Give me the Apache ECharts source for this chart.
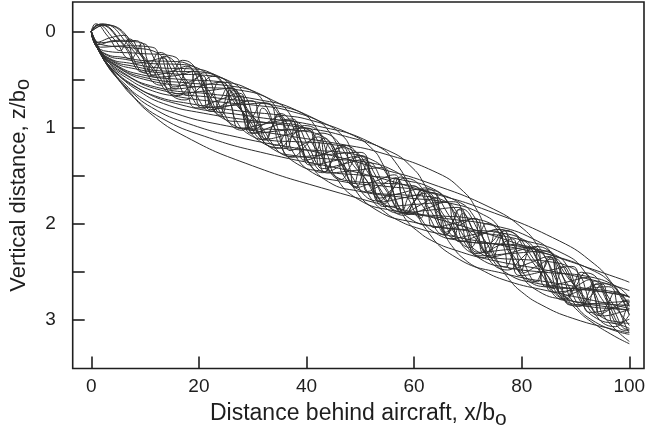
<!DOCTYPE html>
<html>
<head>
<meta charset="utf-8">
<script src="https://cdn.jsdelivr.net/npm/echarts@6/dist/echarts.min.js"></script>
<style>
html,body{margin:0;padding:0;background:#fff;}
#chart{width:648px;height:429px;}
</style>
</head>
<body>
<div id="chart"></div>
<script>
// Tick values
const xTicks = [0, 20, 40, 60, 80, 100];
const yTicks = [0, 0.5, 1, 1.5, 2, 2.5, 3];
const yLabels = [0, 1, 2, 3];

// Trajectories: [x/b0, z/b0]
const traj01 = [[0,0],[1.7,0.20],[3.8,0.40],[6.8,0.61],[10.9,0.85],[17.7,1.10],[28.6,1.37],[44.2,1.65],[68,2.01],[85,2.32],[98.6,2.58],[100,2.61]];
const traj02 = [[0,0],[1.25,0.17],[2.8,0.34],[5,0.50],[8,0.69],[13,0.90],[21,1.09],[32.5,1.27],[50,1.475],[62.5,1.67],[72.5,1.84],[87,2.18],[93.5,2.42],[96.5,2.60],[98.85,2.81],[100,2.95]];
const traj03 = [[0,0],[1.1,0.155],[2.4,0.30],[4.3,0.45],[6.9,0.60],[11.2,0.79],[18.1,0.96],[28,1.11],[43,1.27],[53.8,1.43],[62.4,1.57],[74.8,1.85],[80.4,2.06],[83,2.23],[85,2.41],[86,2.54],[87.1,2.66],[88.4,2.78],[90.3,2.90],[92.9,3.02],[97.2,3.17],[100,3.25]];
const traj04 = [[0,0],[0.9,0.14],[2.1,0.27],[3.7,0.40],[5.9,0.53],[9.6,0.70],[15.5,0.85],[24.05,0.97],[37,1.09],[46.25,1.172],[53.65,1.26],[64.4,1.474],[69.2,1.667],[71.4,1.832],[73.15,2.041],[74,2.18],[74.9,2.317],[76.1,2.451],[77.7,2.582],[79.9,2.707],[83.6,2.844],[89.5,2.986],[98.05,3.115],[100,3.136]];
const traj05 = [[0,0],[0.8,0.13],[1.8,0.245],[3.2,0.36],[5.1,0.46],[8.3,0.60],[13.4,0.75],[20.8,0.85],[32,0.944],[40,1.007],[46.4,1.078],[55.7,1.253],[59.8,1.426],[61.8,1.58],[63.3,1.751],[64,1.89],[64.8,2.016],[65.8,2.126],[67.2,2.245],[69.1,2.36],[72.3,2.475],[77.4,2.598],[84.8,2.699],[96,2.832],[100,2.883]];
const traj06 = [[0,0],[0.7,0.12],[1.6,0.22],[2.8,0.33],[4.5,0.42],[7.3,0.54],[11.8,0.67],[18.2,0.75],[28,0.83],[35,0.87],[40.6,0.921],[48.7,1.082],[52.4,1.232],[54,1.363],[55.4,1.536],[56,1.65],[56.7,1.762],[57.6,1.873],[58.8,1.981],[60.5,2.071],[63.3,2.177],[67.8,2.279],[74.2,2.377],[84,2.478],[91,2.559],[96.6,2.637],[100,2.697]];
const traj07 = [[0,0],[0.6,0.11],[1.4,0.20],[2.5,0.30],[4,0.38],[6.5,0.48],[10.5,0.60],[16.25,0.68],[25,0.74],[31.25,0.773],[36.25,0.818],[43.5,0.96],[46.75,1.088],[48.25,1.22],[49.4,1.368],[50,1.475],[50.6,1.582],[51.4,1.681],[52.5,1.776],[54,1.855],[56.5,1.95],[60.5,2.044],[66.25,2.122],[75,2.2125],[81.25,2.281],[86.25,2.339],[93.5,2.495],[96.75,2.623],[98.25,2.728],[99.4,2.863],[100,2.95]];
const traj08 = [[0,0],[1.3,0.19],[5.7,0.42],[12.1,0.58],[22,0.65],[30.8,0.707],[38.3,0.825],[41.8,1.001],[44,1.30],[45.3,1.506],[49.7,1.75],[56.1,1.865],[66,1.947],[74.8,2.02],[82.3,2.164],[85.8,2.327],[88,2.60],[89.3,2.794],[93.7,3.026],[100,3.153]];
const traj09 = [[0,0],[1.2,0.18],[5.1,0.38],[10.7,0.51],[19.5,0.575],[27.3,0.608],[33.9,0.721],[37.05,0.873],[39,1.15],[40.2,1.343],[44.1,1.566],[49.7,1.662],[58.5,1.73],[66.3,1.783],[72.9,1.908],[76.05,2.061],[78,2.30],[79.2,2.481],[83.1,2.704],[88.7,2.799],[97.5,2.88],[100,2.899]];
const traj10 = [[0,0],[1.0,0.16],[4.4,0.34],[9.35,0.45],[17,0.50],[23.8,0.522],[29.6,0.609],[32.3,0.759],[34,1.00],[35,1.182],[38.4,1.383],[43.35,1.458],[51,1.50],[57.8,1.546],[63.6,1.64],[66.3,1.783],[68,2.01],[69,2.168],[72.4,2.37],[77.35,2.457],[85,2.51],[91.8,2.545],[97.6,2.652],[100,2.772]];
const traj11 = [[0,0],[0.9,0.15],[3.9,0.31],[8.25,0.39],[15,0.44],[21,0.455],[26.1,0.529],[28.5,0.662],[30,0.885],[30.9,1.049],[33.9,1.229],[38.25,1.296],[45,1.33],[51,1.359],[56.1,1.445],[58.5,1.566],[60,1.77],[60.9,1.915],[63.9,2.095],[68.25,2.174],[75,2.21],[81,2.25],[86.1,2.324],[88.5,2.445],[90,2.655],[90.9,2.807],[93.9,2.986],[98.25,3.053],[100,3.09]];
const traj12 = [[0,0],[0.8,0.14],[3.4,0.28],[7.15,0.33],[13,0.38],[18.2,0.388],[22.6,0.442],[24.7,0.565],[26,0.77],[26.8,0.917],[29.4,1.074],[33.15,1.133],[39,1.15],[44.2,1.172],[48.6,1.238],[50.7,1.349],[52,1.53],[52.8,1.675],[55.4,1.832],[59.15,1.891],[65,1.92],[70.2,1.943],[74.6,2.009],[76.7,2.119],[78,2.30],[78.8,2.433],[81.4,2.603],[85.15,2.662],[91,2.68],[96.2,2.701],[100,2.76]];
const traj13 = [[0,0],[0.7,0.125],[3,0.25],[6.3,0.29],[11.5,0.335],[16.1,0.342],[20,0.387],[21.85,0.486],[23,0.68],[23.7,0.815],[26,0.961],[29.3,1.011],[34.5,1.02],[39.1,1.035],[43,1.093],[44.85,1.192],[46,1.36],[46.7,1.482],[49,1.623],[52.3,1.679],[57.5,1.70],[62.1,1.715],[66,1.773],[67.85,1.872],[69,2.04],[69.7,2.163],[72,2.297],[75.3,2.359],[80.5,2.375],[85.1,2.396],[89,2.453],[90.85,2.54],[92,2.71],[92.7,2.843],[95,2.977],[98.3,3.027],[100,3.039]];
const traj14 = [[0,0],[2.6,-0.07],[10,0.28],[17.4,0.713],[20,0.59],[22.6,0.467],[30,0.885],[37.4,1.303],[40,1.18],[42.6,1.057],[50,1.475],[57.4,1.893],[60,1.77],[62.6,1.647],[70,2.065],[77.4,2.483],[80,2.36],[82.6,2.237],[90,2.655],[97.4,3.073],[100,2.95]];
const traj15 = [[0,0],[2.26,0.20],[8.7,0.227],[15.14,0.257],[17.4,0.513],[19.66,0.795],[26.1,0.77],[32.54,0.745],[34.8,1.027],[37.06,1.308],[43.5,1.283],[49.94,1.258],[52.2,1.54],[54.46,1.822],[60.9,1.797],[67.34,1.772],[69.6,2.053],[71.86,2.335],[78.3,2.31],[84.74,2.285],[87,2.567],[89.26,2.848],[95.7,2.823],[100,2.808]];
const traj16 = [[0,0],[1.95,-0.08],[7.5,0.181],[13.05,0.56],[15,0.443],[16.95,0.30],[22.5,0.664],[28.05,1.028],[30,0.885],[31.95,0.743],[37.5,1.106],[43.05,1.47],[45,1.328],[46.95,1.185],[52.5,1.549],[58.05,1.913],[60,1.77],[61.95,1.628],[67.5,1.991],[73.05,2.355],[75,2.213],[76.95,2.07],[82.5,2.434],[88.05,2.798],[90,2.655],[91.95,2.513],[97.5,2.876],[100,3.06]];
const traj17 = [[0,0],[1.69,0.163],[6.5,0.149],[11.31,0.164],[13,0.384],[14.69,0.598],[19.5,0.575],[24.31,0.527],[26,0.767],[27.69,1.007],[32.5,0.959],[37.31,0.911],[39,1.151],[40.69,1.39],[45.5,1.342],[50.31,1.294],[52,1.534],[53.69,1.774],[58.5,1.726],[63.31,1.678],[65,1.918],[66.69,2.157],[71.5,2.109],[76.31,2.061],[78,2.301],[79.69,2.541],[84.5,2.493],[89.31,2.445],[91,2.685],[92.69,2.924],[97.5,2.876],[100,2.825]];
const traj18 = [[0,0],[1.46,-0.07],[5.6,0.117],[9.74,0.425],[11.2,0.33],[12.66,0.218],[16.8,0.496],[20.94,0.798],[22.4,0.661],[23.86,0.524],[28,0.826],[32.14,1.128],[33.6,0.991],[35.06,0.854],[39.2,1.156],[43.34,1.459],[44.8,1.322],[46.26,1.185],[50.4,1.487],[54.54,1.789],[56,1.652],[57.46,1.515],[61.6,1.817],[65.74,2.119],[67.2,1.982],[68.66,1.845],[72.8,2.148],[76.94,2.45],[78.4,2.313],[79.86,2.176],[84,2.478],[88.14,2.78],[89.6,2.643],[91.06,2.506],[95.2,2.808],[99.34,3.111],[100,3.11]];
const traj19 = [[0,0],[1.25,0.136],[4.8,0.092],[8.35,0.095],[9.6,0.265],[10.85,0.456],[14.4,0.425],[17.95,0.36],[19.2,0.566],[20.45,0.773],[24,0.708],[27.55,0.643],[28.8,0.85],[30.05,1.056],[33.6,0.991],[37.15,0.926],[38.4,1.133],[39.65,1.34],[43.2,1.274],[46.75,1.209],[48,1.416],[49.25,1.623],[52.8,1.558],[56.35,1.492],[57.6,1.699],[58.85,1.906],[62.4,1.841],[65.95,1.776],[67.2,1.982],[68.45,2.189],[72,2.124],[75.55,2.059],[76.8,2.266],[78.05,2.472],[81.6,2.407],[85.15,2.342],[86.4,2.549],[87.65,2.756],[91.2,2.69],[94.75,2.625],[96,2.832],[97.25,3.039],[100,2.995]];
const traj20 = [[0,0],[1.09,-0.07],[4.2,0.078],[7.31,0.287],[8.4,0.215],[9.49,0.125],[12.6,0.372],[15.71,0.598],[16.8,0.496],[17.89,0.368],[21,0.62],[24.11,0.871],[25.2,0.743],[26.29,0.616],[29.4,0.867],[32.51,1.119],[33.6,0.991],[34.69,0.863],[37.8,1.115],[40.91,1.367],[42,1.239],[43.09,1.111],[46.2,1.363],[49.31,1.615],[50.4,1.487],[51.49,1.359],[54.6,1.611],[57.71,1.862],[58.8,1.735],[59.89,1.607],[63,1.859],[66.11,2.11],[67.2,1.982],[68.29,1.855],[71.4,2.106],[74.51,2.358],[75.6,2.23],[76.69,2.102],[79.8,2.354],[82.91,2.606],[84,2.478],[85.09,2.35],[88.2,2.602],[91.31,2.854],[92.4,2.726],[93.49,2.598],[96.6,2.85],[99.71,3.101],[100,3.10]];
const traj21 = [[0,0],[0.94,0.112],[3.6,0.064],[6.26,0.04],[7.2,0.172],[8.14,0.331],[10.8,0.309],[13.46,0.272],[14.4,0.425],[15.34,0.577],[18,0.531],[20.66,0.46],[21.6,0.637],[22.54,0.815],[25.2,0.743],[27.86,0.672],[28.8,0.85],[29.74,1.027],[32.4,0.956],[35.06,0.884],[36,1.062],[36.94,1.24],[39.6,1.168],[42.26,1.097],[43.2,1.274],[44.14,1.452],[46.8,1.381],[49.46,1.309],[50.4,1.487],[51.34,1.664],[54,1.593],[56.66,1.522],[57.6,1.699],[58.54,1.877],[61.2,1.805],[63.86,1.734],[64.8,1.912],[65.74,2.089],[68.4,2.018],[71.06,1.946],[72,2.124],[72.94,2.302],[75.6,2.23],[78.26,2.159],[79.2,2.336],[80.14,2.514],[82.8,2.443],[85.46,2.371],[86.4,2.549],[87.34,2.726],[90,2.655],[92.66,2.584],[93.6,2.761],[94.54,2.939],[97.2,2.867],[99.86,2.796],[100,2.80]];
const traj22 = [[0,0],[0.8,-0.08],[3.1,0.052],[5.39,0.20],[6.2,0.138],[7.01,0.077],[9.3,0.254],[11.59,0.455],[12.4,0.366],[13.21,0.275],[15.5,0.457],[17.79,0.665],[18.6,0.549],[19.41,0.433],[21.7,0.640],[23.99,0.848],[24.8,0.732],[25.61,0.615],[27.9,0.823],[30.19,1.031],[31,0.915],[31.81,0.798],[34.1,1.006],[36.39,1.214],[37.2,1.097],[38.01,0.981],[40.3,1.189],[42.59,1.397],[43.4,1.280],[44.21,1.164],[46.5,1.372],[48.79,1.579],[49.6,1.463],[50.41,1.347],[52.7,1.555],[54.99,1.762],[55.8,1.646],[56.61,1.53],[58.9,1.738],[61.19,1.945],[62,1.829],[62.81,1.713],[65.1,1.921],[67.39,2.128],[68.2,2.012],[69.01,1.896],[71.3,2.103],[73.59,2.311],[74.4,2.195],[75.21,2.079],[77.5,2.286],[79.79,2.494],[80.6,2.378],[81.41,2.262],[83.7,2.469],[85.99,2.677],[86.8,2.561],[87.61,2.444],[89.9,2.652],[92.19,2.86],[93,2.744],[93.81,2.627],[96.1,2.835],[98.39,3.043],[99.2,2.926],[100,2.81]];
const traj23 = [[0,0],[1.35,0.117],[5.2,0.103],[9.05,0.111],[10.4,0.295],[11.75,0.474],[15.6,0.460],[19.45,0.414],[20.8,0.614],[22.15,0.814],[26,0.767],[29.85,0.721],[31.2,0.920],[32.55,1.12],[36.4,1.074],[40.25,1.027],[41.6,1.227],[42.95,1.427],[46.8,1.381],[50.65,1.334],[52,1.534],[53.35,1.734],[57.2,1.687],[61.05,1.641],[62.4,1.841],[63.75,2.041],[67.6,1.994],[71.45,1.948],[72.8,2.148],[74.15,2.347],[78,2.301],[81.85,2.254],[83.2,2.454],[84.55,2.654],[88.4,2.608],[92.25,2.561],[93.6,2.761],[94.95,2.961],[98.8,2.915],[100,2.883]];
const traj24 = [[0,0],[1.56,-0.075],[6,0.132],[10.44,0.437],[12,0.354],[13.56,0.26],[18,0.531],[22.44,0.832],[24,0.708],[25.56,0.584],[30,0.885],[34.44,1.186],[36,1.062],[37.56,0.938],[42,1.239],[46.44,1.54],[48,1.416],[49.56,1.292],[54,1.593],[58.44,1.894],[60,1.77],[61.56,1.646],[66,1.947],[70.44,2.248],[72,2.124],[73.56,2.0],[78,2.301],[82.44,2.602],[84,2.478],[85.56,2.354],[90,2.655],[94.44,2.956],[96,2.832],[97.56,2.708],[100,2.851]];
const traj25 = [[0,0],[1.82,0.135],[7,0.167],[12.18,0.219],[14,0.413],[15.82,0.647],[21,0.620],[26.18,0.592],[28,0.826],[29.82,1.06],[35,1.033],[40.18,1.005],[42,1.239],[43.82,1.473],[49,1.446],[54.18,1.418],[56,1.652],[57.82,1.886],[63,1.859],[68.18,1.831],[70,2.065],[71.82,2.299],[77,2.272],[82.18,2.244],[84,2.478],[85.82,2.712],[91,2.685],[96.18,2.657],[98,2.891],[99.82,3.125],[100,3.13]];
const traj26 = [[0,0],[2.42,-0.07],[9.3,0.254],[16.18,0.667],[18.6,0.549],[21.02,0.43],[27.9,0.823],[34.78,1.216],[37.2,1.097],[39.62,0.979],[46.5,1.372],[53.38,1.765],[55.8,1.646],[58.22,1.527],[65.1,1.921],[71.98,2.313],[74.4,2.195],[76.82,2.076],[83.7,2.469],[90.58,2.862],[93,2.744],[95.42,2.625],[100,2.864]];
const traj27 = [[0,0],[0.75,0.12],[1.8,0.24],[3,0.34],[7.8,0.564],[16.5,0.761],[30,0.885],[42,0.984],[52.2,1.164],[57,1.398],[60,1.77],[61.8,2.027],[67.8,2.353],[76.5,2.517],[90,2.655],[100,2.76]];
const traj28 = [[0,0],[0.59,0.10],[1.41,0.198],[2.35,0.277],[6.11,0.445],[12.93,0.61],[23.5,0.693],[32.9,0.756],[40.89,0.891],[44.65,1.08],[47,1.387],[48.41,1.599],[53.11,1.862],[59.93,1.986],[70.5,2.08],[79.9,2.169],[87.89,2.317],[91.65,2.496],[94,2.773],[95.41,2.975],[100,3.226]];
const traj29 = [[0,0],[1.09,0.171],[4.73,0.36],[10.01,0.48],[18.2,0.537],[25.48,0.565],[31.67,0.66],[34.58,0.813],[36.4,1.074],[37.49,1.255],[41.13,1.47],[46.41,1.559],[54.6,1.611],[61.88,1.661],[68.07,1.768],[70.98,1.912],[72.8,2.148],[73.89,2.32],[77.53,2.527],[82.81,2.621],[91,2.685],[98.28,2.735],[100,2.765]];
const traj30 = [[0,0],[0.84,0.144],[3.64,0.294],[7.7,0.36],[14,0.413],[19.6,0.419],[24.36,0.485],[26.6,0.608],[28,0.826],[28.84,0.978],[31.64,1.153],[35.7,1.216],[42,1.239],[47.6,1.266],[52.36,1.341],[54.6,1.456],[56,1.652],[56.84,1.795],[59.64,1.963],[63.7,2.03],[70,2.065],[75.6,2.092],[80.36,2.167],[82.6,2.282],[84,2.478],[84.84,2.621],[87.64,2.789],[91.7,2.856],[98,2.891],[100,2.90]];
const traj31 = [[0,0],[0.64,0.118],[2.78,0.236],[5.885,0.269],[10.7,0.306],[14.98,0.311],[18.62,0.356],[20.33,0.454],[21.4,0.631],[22.04,0.755],[24.18,0.895],[27.29,0.938],[32.1,0.947],[36.38,0.959],[40.02,1.012],[41.73,1.104],[42.8,1.263],[43.44,1.379],[45.58,1.514],[48.69,1.56],[53.5,1.578],[57.78,1.591],[61.42,1.643],[63.13,1.735],[64.2,1.894],[64.84,2.011],[66.98,2.145],[70.09,2.192],[74.9,2.21],[79.18,2.222],[82.82,2.274],[84.53,2.367],[85.6,2.525],[86.24,2.642],[88.38,2.776],[91.49,2.823],[96.3,2.841],[100,2.851]];

const trajectories = [traj01, traj02, traj03, traj04, traj05, traj06, traj07, traj08, traj09, traj10,
  traj11, traj12, traj13, traj14, traj15, traj16, traj17, traj18, traj19, traj20,
  traj21, traj22, traj23, traj24, traj25, traj26, traj27, traj28, traj29, traj30, traj31];

const chart = echarts.init(document.getElementById('chart'), null, {renderer: 'canvas'});
const FONT = 'Liberation Sans, Arial, Helvetica, sans-serif';
const INK = '#1e1e1e';

chart.setOption({
  animation: false,
  backgroundColor: '#ffffff',
  grid: {
    left: 72.7, right: 4, top: 2, bottom: 60.5,
    outerBoundsMode: 'none',
    containLabel: false,
    show: true, borderColor: INK, borderWidth: 1.6, backgroundColor: 'transparent'
  },
  xAxis: {
    type: 'value',
    min: -3.46, max: 102.73,
    axisLine: {show: false, onZero: false},
    splitLine: {show: false},
    axisTick: {show: true, inside: true, length: 12, lineStyle: {color: INK, width: 1.6}, customValues: xTicks},
    axisLabel: {show: true, margin: 9, fontSize: 19, color: INK, fontFamily: FONT, customValues: xTicks},
    name: 'Distance behind aircraft, x/b{sub|o}',
    nameLocation: 'middle',
    nameGap: 29,
    nameTextStyle: {fontSize: 23, color: INK, fontFamily: FONT,
      rich: {sub: {fontSize: 21, color: INK, fontFamily: FONT, padding: [11, 0, 0, 0]}}}
  },
  yAxis: {
    type: 'value',
    inverse: true,
    min: -0.307, max: 3.508,
    axisLine: {show: false, onZero: false},
    splitLine: {show: false},
    axisTick: {show: true, inside: true, length: 12, lineStyle: {color: INK, width: 1.6}, customValues: yTicks},
    axisLabel: {show: true, margin: 17, fontSize: 19, color: INK, fontFamily: FONT, customValues: yLabels},
    name: 'Vertical distance, z/b{sub|o}',
    nameLocation: 'middle',
    nameGap: 39,
    nameTextStyle: {fontSize: 22, color: INK, fontFamily: FONT,
      rich: {sub: {fontSize: 20, color: INK, fontFamily: FONT, padding: [10, 0, 0, 0]}}}
  },
  series: trajectories.map(function (d) {
    return {
      type: 'line',
      data: d,
      smooth: 0.5,
      showSymbol: false,
      silent: true,
      lineStyle: {color: '#2e2e2e', width: 1}
    };
  })
});
</script>
</body>
</html>
